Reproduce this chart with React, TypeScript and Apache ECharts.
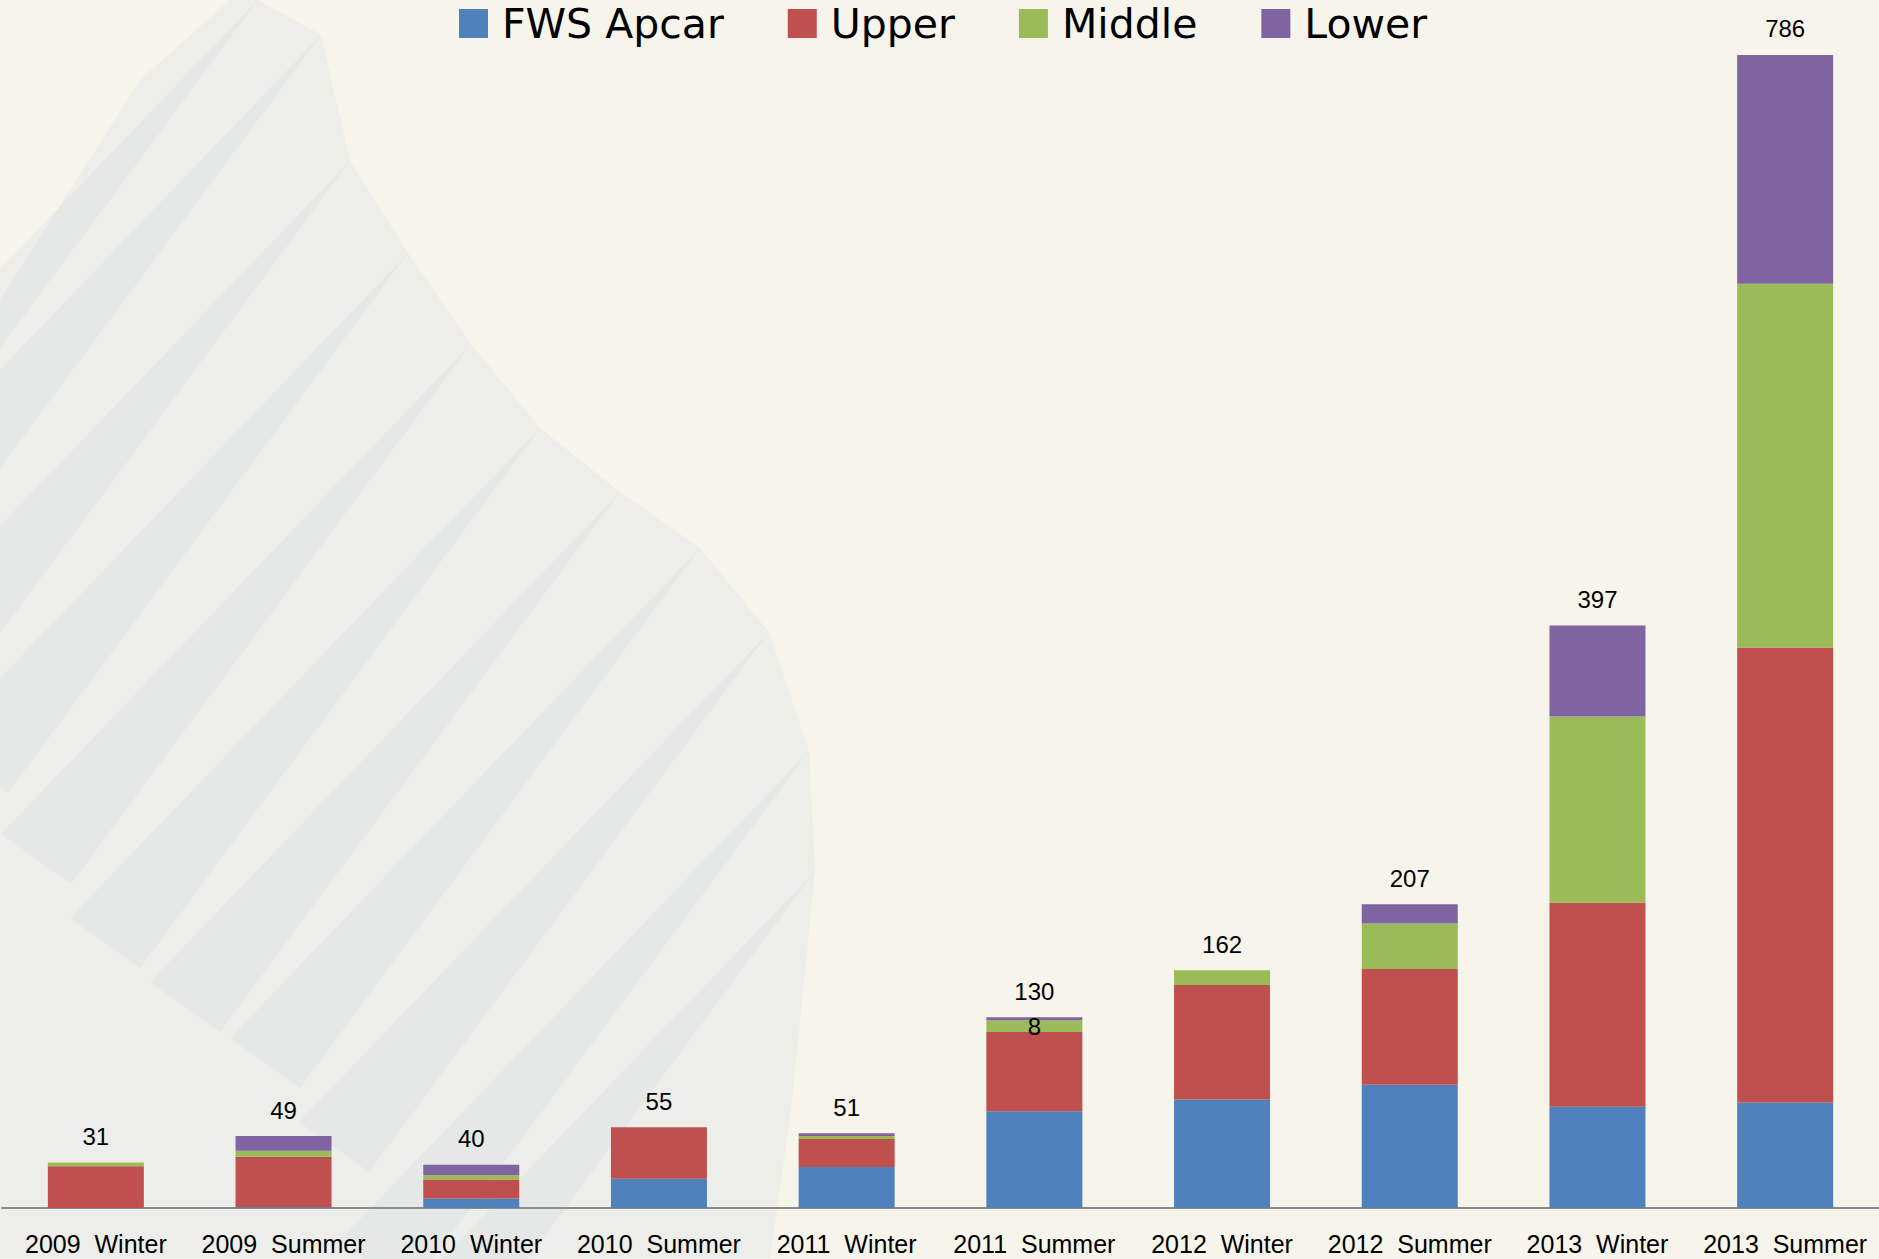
import React, { useEffect, useRef } from "react";
import * as echarts from "echarts";

const categories = [
  "2009  Winter",
  "2009  Summer",
  "2010  Winter",
  "2010  Summer",
  "2011  Winter",
  "2011  Summer",
  "2012  Winter",
  "2012  Summer",
  "2013  Winter",
  "2013  Summer",
];
const fwsApcar = [0, 0.5, 6.5, 20, 28, 66, 74, 84, 69, 72];
const upper = [28.5, 34.5, 13, 35, 19, 54, 78, 79, 139, 310];
const middle = [2.5, 4, 3, 0, 2, 8, 10, 31, 127, 248];
const lower = [0, 10, 7, 0, 2, 2, 0, 13, 62, 156];
const totals = [31, 49, 40, 55, 51, 130, 162, 207, 397, 786];
const middleLabelIndex = 5;

const FONT = "'Liberation Sans', Arial, sans-serif";
const LEGEND_FONT = "'DejaVu Sans', 'Liberation Sans', sans-serif";

// background streak tips (decorative paper texture)
const tips: [number, number][] = [
  [258, 0], [321, 35], [350, 161], [408, 253], [471, 344], [540, 428],
  [620, 492], [700, 548], [769, 632], [809, 751], [815, 871],
];

function buildBackground() {
  const els: any[] = [];
  els.push({
    type: "polygon",
    silent: true,
    z: -10,
    shape: {
      points: [[0, 300], [140, 80], [230, 0], ...tips, [792, 1101], [770, 1259], [0, 1259]],
    },
    style: { fill: "rgba(205,218,228,0.22)" },
  });
  tips.forEach((t, i) => {
    els.push({
      type: "polygon",
      silent: true,
      z: -9,
      shape: {
        points: [t, [t[0] - 400, t[1] + 540], [t[0] - 470, t[1] + 490]],
      },
      style: { fill: i % 2 ? "rgba(196,212,226,0.20)" : "rgba(190,208,224,0.16)" },
    });
  });
  return els;
}

export default function App() {
  const ref = useRef<HTMLDivElement>(null);
  useEffect(() => {
    if (!ref.current) return;
    const chart = echarts.init(ref.current, undefined, { renderer: "svg" });
    const sums = categories.map((_, i) => fwsApcar[i] + upper[i] + middle[i] + lower[i]);
    const seg = (name: string, data: any[], color: string) => ({
      name,
      type: "bar",
      stack: "a",
      barWidth: 96,
      data,
      itemStyle: { color },
    });
    chart.setOption({
      animation: false,
      backgroundColor: "#f6f4eb",
      graphic: buildBackground(),
      legend: {
        data: ["FWS Apcar", "Upper", "Middle", "Lower"],
        left: 459,
        top: 3,
        padding: 0,
        icon: "rect",
        itemWidth: 29,
        itemHeight: 29,
        itemGap: 64,
        textStyle: {
          fontSize: 41,
          lineHeight: 41,
          color: "#000",
          fontFamily: LEGEND_FONT,
          padding: [0, 0, 0, 9],
        },
      },
      grid: { left: 2, width: 1879, top: 34.4, bottom: 51, containLabel: false },
      xAxis: {
        type: "category",
        data: categories,
        axisLine: { lineStyle: { color: "#8a8a8a", width: 2 } },
        axisTick: { show: false },
        axisLabel: { fontSize: 25, color: "#000", fontFamily: FONT, margin: 23, interval: 0 },
      },
      yAxis: {
        type: "value",
        min: 0,
        max: 800,
        show: false,
        splitLine: { show: false },
      },
      series: [
        seg("FWS Apcar", fwsApcar, "#4f81bd"),
        seg("Upper", upper, "#c0504d"),
        seg(
          "Middle",
          middle.map((v, i) =>
            i === middleLabelIndex
              ? { value: v, label: { show: true, position: "inside", fontSize: 24, color: "#000", fontFamily: FONT } }
              : v
          ),
          "#9bbb59"
        ),
        seg("Lower", lower, "#8064a2"),
        {
          name: "Total",
          type: "bar",
          barWidth: 96,
          barGap: "-100%",
          silent: true,
          data: sums,
          itemStyle: { color: "transparent" },
          label: {
            show: true,
            position: "top",
            distance: 14,
            fontSize: 24,
            color: "#000",
            fontFamily: FONT,
            formatter: (p: any) => String(totals[p.dataIndex]),
          },
        },
      ],
    });
    return () => chart.dispose();
  }, []);
  return (
    <div
      ref={ref}
      style={{ position: "fixed", left: 0, top: 0, width: 1879, height: 1259 }}
    />
  );
}
